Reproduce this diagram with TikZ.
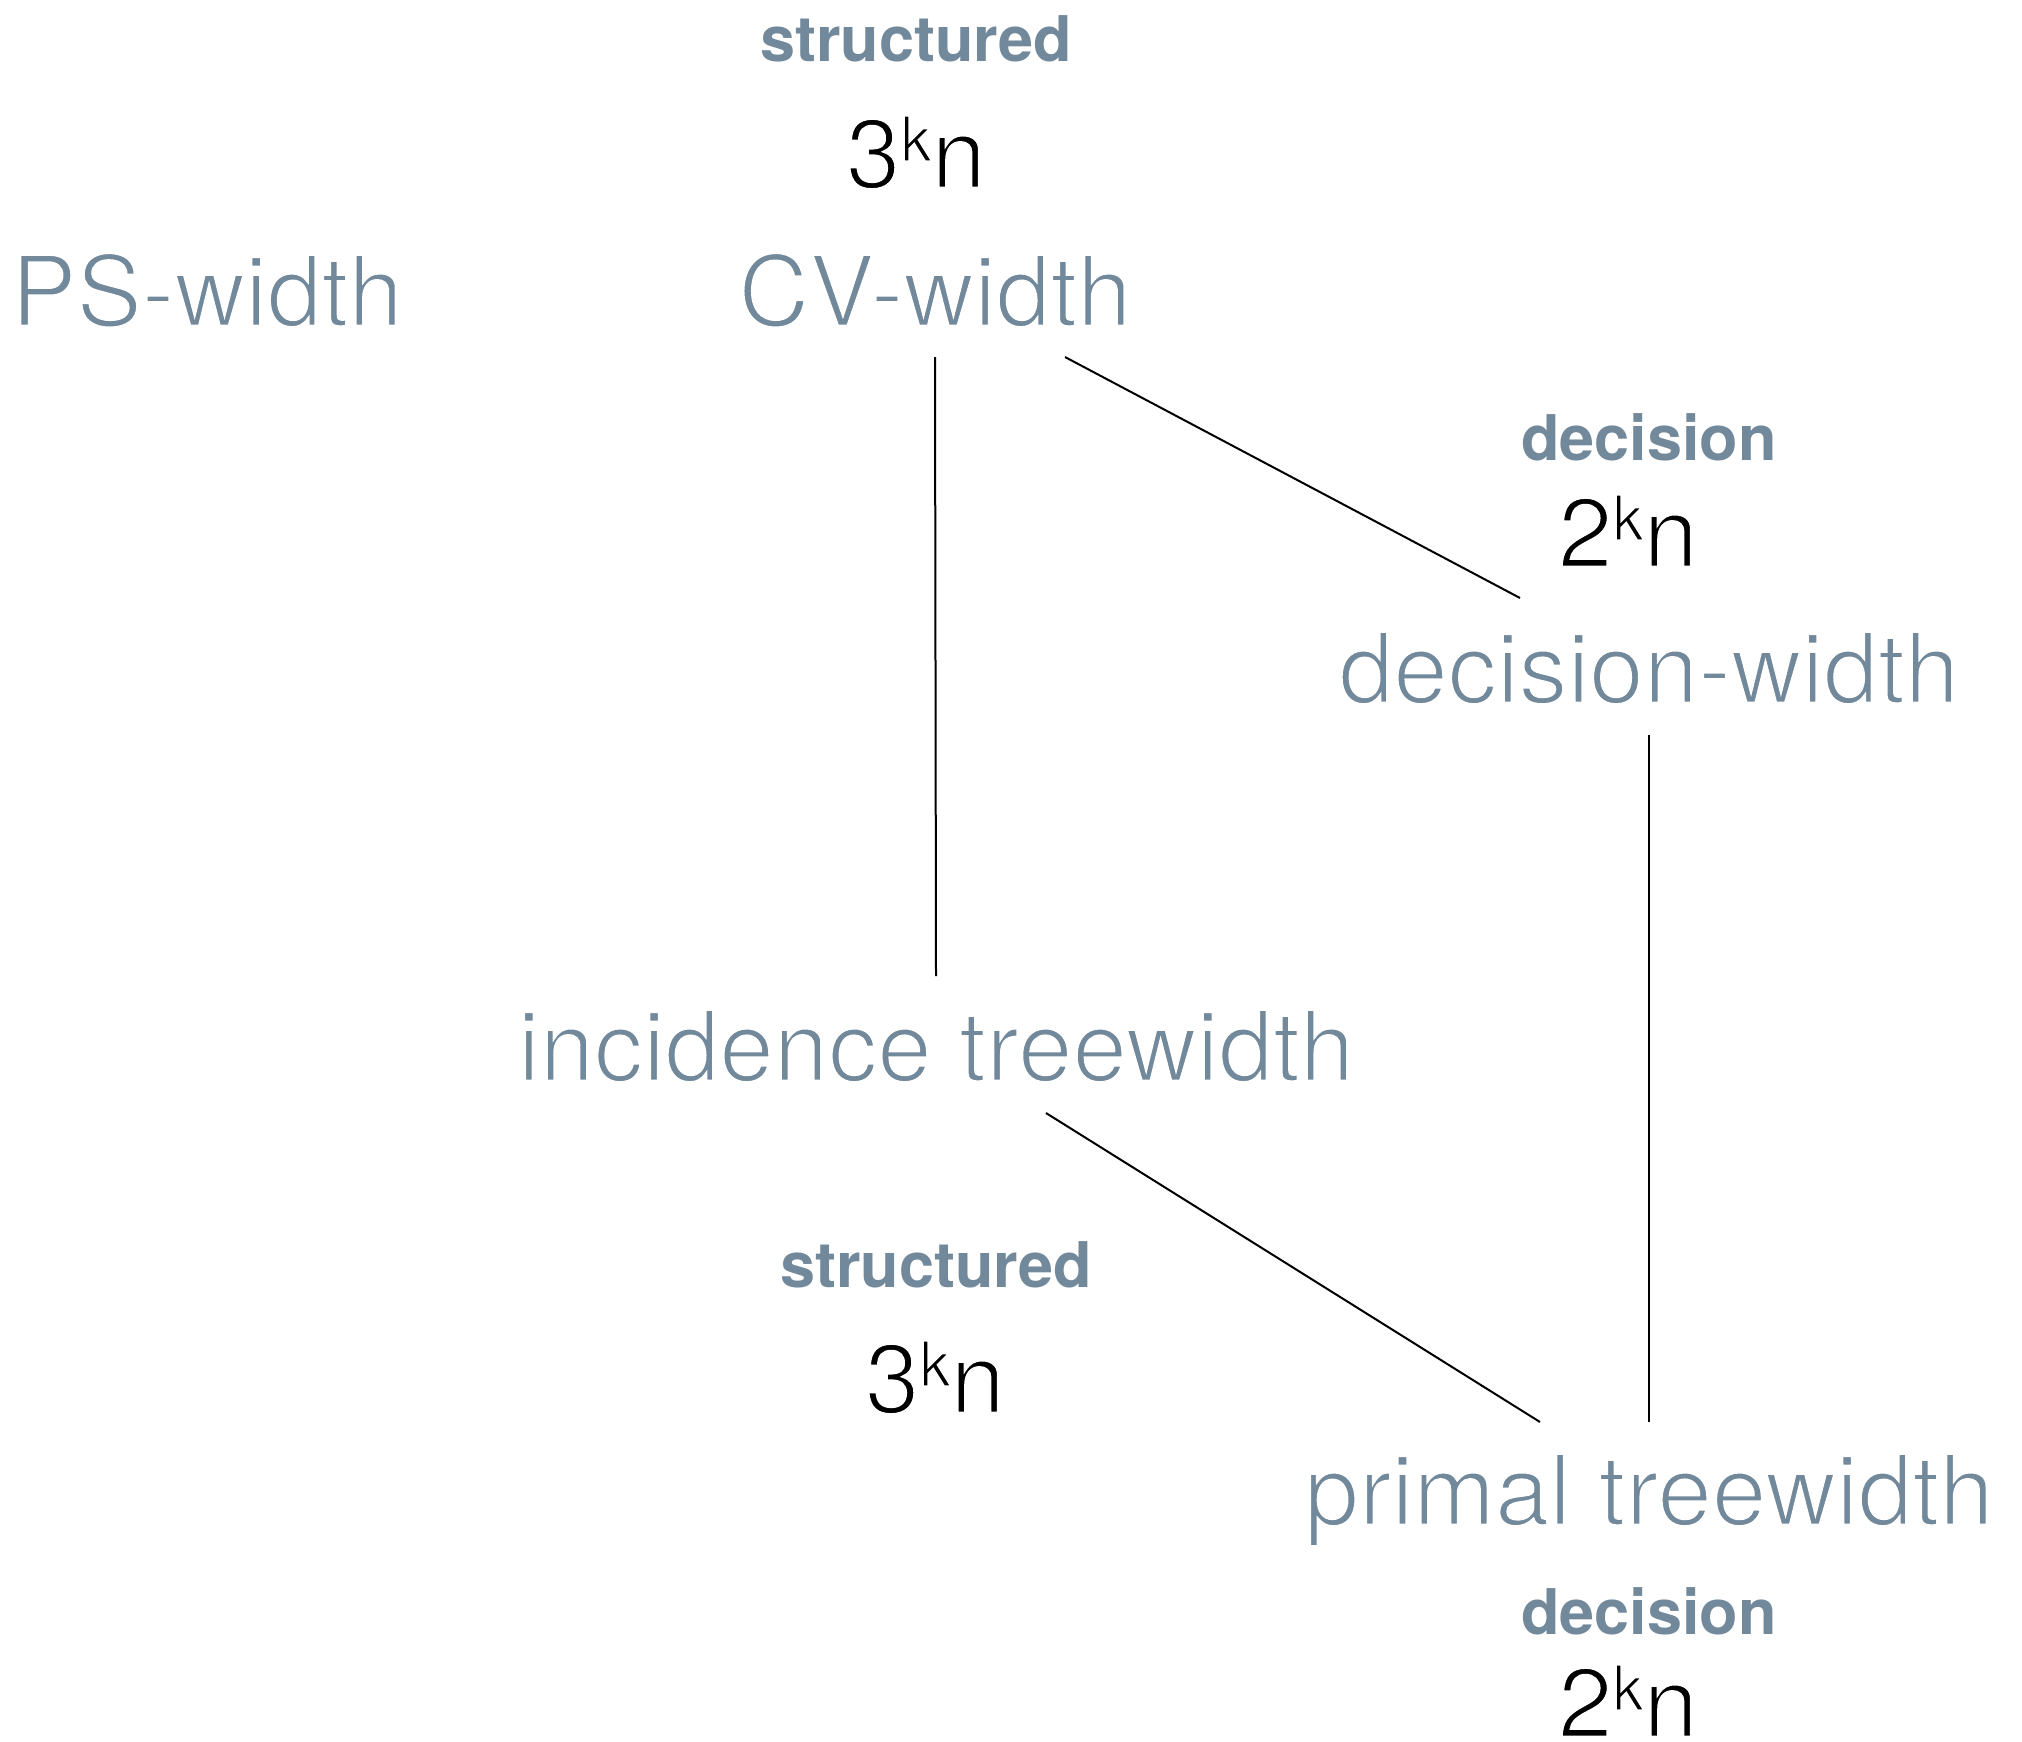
\documentclass[tikz,border=0pt]{standalone}
\usepackage{fontspec}
\setmainfont{TeX Gyre Heros}
\usetikzlibrary{calc}
\definecolor{slate}{RGB}{114,137,155}
% light cut of the sans: glyphs are filled, then edged in white
\newcommand{\lightcut}[2][2.6]{\special{pdf:literal direct 2 Tr 1 1 1 RG #1 w}#2\special{pdf:literal direct 0 Tr}}
\newcommand{\pw}[2]{\lightcut{#1}\raisebox{27pt}{\fontsize{62}{62}\selectfont\lightcut[1.5]{#2}}\lightcut{n}}
\begin{document}
\begin{tikzpicture}[x=1pt,y=-1pt,
  measure/.style={anchor=base,inner sep=0pt,text=slate,font=\fontsize{98}{110}\selectfont},
  kind/.style={anchor=base,inner sep=0pt,text=slate,font=\fontsize{63}{70}\selectfont\bfseries},
  cost/.style={anchor=base,inner sep=0pt,text=black,font=\fontsize{98}{110}\selectfont},
  link/.style={line width=2pt,black}]
\useasboundingbox (0,0) rectangle (2022,1741);

% width measures
\node[measure] (ps)  at (207,326)  {\lightcut{PS-width}};
\node[measure] (cv)  at (935,326)  {\lightcut{CV-width}};
\node[measure] (dw)  at (1649,703) {\lightcut{decision-width}};
\node[measure] (inc) at (936,1081) {\lightcut{incidence treewidth}};
\node[measure] (pt)  at (1649,1525) {\lightcut{primal treewidth}};

% compilation kinds and sizes
\node[kind] (s1) at (916,61)   {structured};
\node[cost] (c1) at (916,188)  {\pw{3}{k}};
\node[kind] (d1) at (1649,460) {decision};
\node[cost] (c2) at (1628,567) {\pw{2}{k}};
\node[kind] (s2) at (936,1287) {structured};
\node[cost] (c3) at (935,1413) {\pw{3}{k}};
\node[kind] (d2) at (1649,1634) {decision};
\node[cost] (c4) at (1628,1737) {\pw{2}{k}};

% relations
\draw[link] ([yshift=-31pt]cv.base) -- ([yshift=105pt]inc.base);
\draw[link] ([xshift=130pt,yshift=-31pt]cv.base) -- ([xshift=-129pt,yshift=105pt]dw.base);
\draw[link] ([yshift=-32pt]dw.base) -- ([yshift=103pt]pt.base);
\draw[link] ([xshift=110pt,yshift=-32pt]inc.base) -- ([xshift=-109pt,yshift=103pt]pt.base);
\end{tikzpicture}
\end{document}
